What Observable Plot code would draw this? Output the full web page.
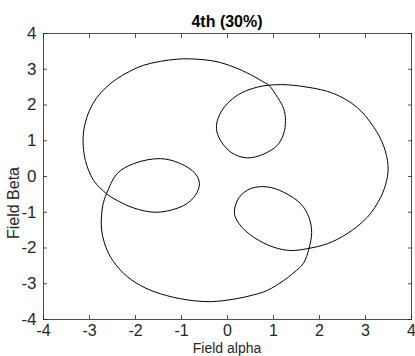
<!DOCTYPE html>
<html>
<head>
<meta charset="utf-8">
<script src="https://cdn.jsdelivr.net/npm/d3@7"></script>
<script src="https://cdn.jsdelivr.net/npm/@observablehq/plot@0.6"></script>
<style>
  html, body { margin: 0; padding: 0; background: #fff; }
  #chart { width: 415px; height: 356px; overflow: hidden; }
</style>
</head>
<body>
<div id="chart"></div>
<script>
const titleText = "4th (30%)";
const xLabel = "Field alpha";
const yLabel = "Field Beta";
const xTicks = [-4, -3, -2, -1, 0, 1, 2, 3, 4];
const yTicks = [-4, -3, -2, -1, 0, 1, 2, 3, 4];

// Trajectory of the field vector, traced along the curve from the picture
const alphaValues = [
  -0.80, -0.26, 0.14, 0.50, 0.76, 0.90, 1.09, 1.22, 1.26, 1.22,
  1.08, 0.79, 0.43, 0.07, -0.19, -0.24, -0.12, 0.21, 0.65, 1.15,
  1.73, 2.31, 2.82, 3.18, 3.39, 3.49, 3.46, 3.33, 3.04, 2.60,
  2.17, 1.73, 1.37, 1.01, 0.57, 0.25, 0.15, 0.25, 0.50, 0.86,
  1.22, 1.59, 1.77, 1.83, 1.77, 1.65, 1.44, 1.22, 0.86, 0.57,
  0.14, -0.37, -0.88, -1.46, -1.89, -2.25, -2.54, -2.68, -2.74, -2.74,
  -2.71, -2.63, -2.40, -2.04, -1.46, -1.02, -0.70, -0.61, -0.70, -0.95,
  -1.53, -2.04, -2.47, -2.63, -2.91, -3.09, -3.14, -3.10, -3.00, -2.85,
  -2.65, -2.41, -2.13, -1.83, -1.46, -1.11
];
const betaValues = [
  3.29, 3.22, 3.06, 2.85, 2.66, 2.55, 2.21, 1.90, 1.57, 1.19,
  0.87, 0.63, 0.52, 0.68, 1.10, 1.43, 1.85, 2.27, 2.50, 2.57,
  2.50, 2.32, 1.93, 1.38, 0.87, 0.31, -0.11, -0.58, -1.14, -1.60,
  -1.88, -2.02, -2.07, -1.98, -1.70, -1.32, -1.01, -0.59, -0.34, -0.29,
  -0.44, -0.76, -1.14, -1.57, -2.02, -2.43, -2.69, -2.91, -3.19, -3.31,
  -3.43, -3.50, -3.45, -3.28, -3.05, -2.72, -2.26, -1.84, -1.47, -1.13,
  -0.80, -0.48, 0.08, 0.36, 0.50, 0.36, 0.08, -0.20, -0.53, -0.81,
  -1.00, -0.88, -0.62, -0.48, -0.11, 0.45, 1.01, 1.46, 1.85, 2.19,
  2.48, 2.73, 2.94, 3.11, 3.22, 3.28
];

const points = alphaValues.map((a, i) => ({alpha: a, beta: betaValues[i]}));
const fmt = d => String(d);
const axisColor = "#262626";
const font = "'Liberation Sans', Arial, sans-serif";

const chart = Plot.plot({
  width: 415,
  height: 356,
  marginLeft: 43,
  marginRight: 4,
  marginTop: 33,
  marginBottom: 37,
  style: {fontFamily: font, background: "#fff", color: axisColor},
  x: {domain: [-4, 4], label: null},
  y: {domain: [-4, 4], label: null},
  marks: [
    Plot.line(points, {x: "alpha", y: "beta", curve: "catmull-rom-closed", stroke: "#000", strokeWidth: 1}),
    Plot.frame({stroke: axisColor, strokeWidth: 0.8}),
    Plot.axisX({anchor: "bottom", ticks: xTicks, tickSize: -4, fill: "none", label: null, stroke: axisColor, strokeWidth: 0.8}),
    Plot.axisX({anchor: "top", ticks: xTicks, tickSize: -4, fill: "none", label: null, stroke: axisColor, strokeWidth: 0.8}),
    Plot.axisY({anchor: "left", ticks: yTicks, tickSize: -4, fill: "none", label: null, stroke: axisColor, strokeWidth: 0.8}),
    Plot.axisY({anchor: "right", ticks: yTicks, tickSize: -4, fill: "none", label: null, stroke: axisColor, strokeWidth: 0.8}),
    Plot.axisX({anchor: "bottom", ticks: xTicks, tickSize: 0, tickPadding: 5, tickFormat: fmt, label: null, fontSize: 16, fill: axisColor}),
    Plot.axisY({anchor: "left", ticks: yTicks, tickSize: 0, tickPadding: 7, tickFormat: fmt, label: null, fontSize: 17, fill: axisColor})
  ]
});

const svg = d3.select(chart);
svg.append("text")
  .attr("x", 227).attr("y", 27)
  .attr("text-anchor", "middle")
  .attr("font-family", font).attr("font-size", 16).attr("font-weight", "bold")
  .attr("fill", "#000")
  .text(titleText);
svg.append("text")
  .attr("x", 227).attr("y", 353)
  .attr("text-anchor", "middle")
  .attr("font-family", font).attr("font-size", 14)
  .attr("fill", axisColor)
  .text(xLabel);
svg.append("text")
  .attr("transform", "translate(19,203) rotate(-90)")
  .attr("text-anchor", "middle")
  .attr("font-family", font).attr("font-size", 16)
  .attr("fill", axisColor)
  .text(yLabel);

document.getElementById("chart").appendChild(chart);
</script>
</body>
</html>
